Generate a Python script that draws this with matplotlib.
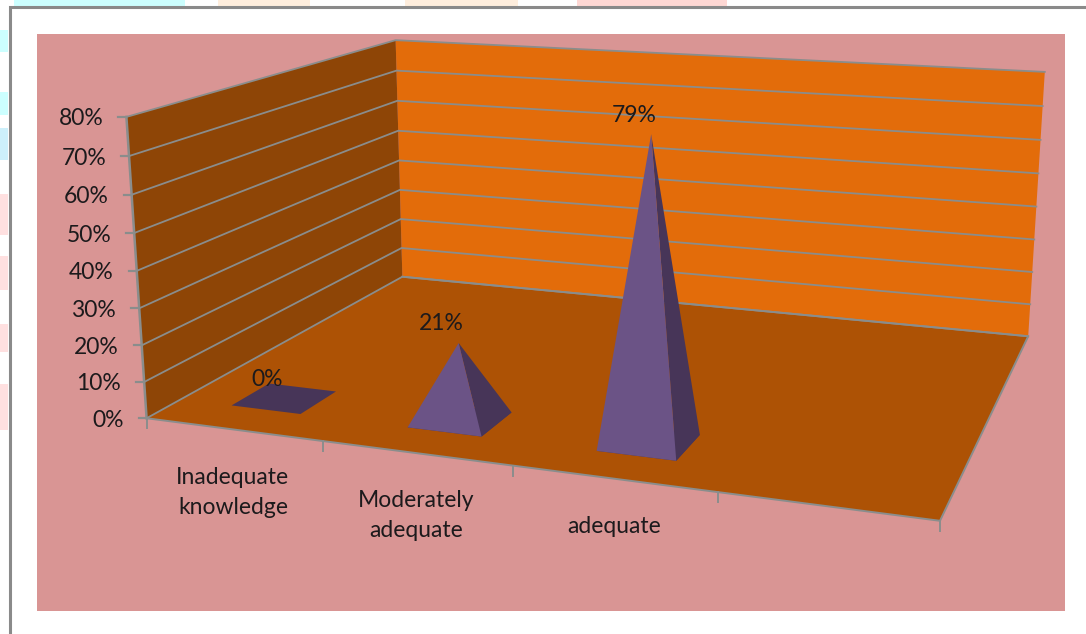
import numpy as np
import matplotlib
matplotlib.use('Agg')
import matplotlib.pyplot as plt
from matplotlib.patches import Polygon, Rectangle

plt.rcParams['font.family'] = ['Lato', 'DejaVu Sans']

categories = ['Inadequate\nknowledge', 'Moderately\nadequate', 'adequate']
values = [0, 21, 79]
y_ticks = [0, 10, 20, 30, 40, 50, 60, 70, 80]
n_slots = 4
y_max = 80

PINK = '#d99594'
BACK_WALL = '#e36c0a'
SIDE_WALL = '#8e4506'
FLOOR = '#ad5205'
GRID = '#8a8d8c'
FACE_FRONT = '#6b5386'
FACE_SIDE = '#473558'
TEXT = '#1c1a1c'
FS = 16.5

# camera: box corners (slot position, depth, height) -> pixel position
box_pts = [(0, 0, 0), (1, 0, 0), (0, 1, 0), (1, 1, 0), (0, 0, 1), (0, 1, 1), (1, 1, 1)]
px_pts = [(146, 418), (940, 521), (403, 277), (1028, 336), (127, 117), (395, 40), (1045, 72)]


def fit_camera(src, dst):
    rows = []
    for (a, b, c), (x, y) in zip(src, dst):
        rows.append([a, b, c, 1, 0, 0, 0, 0, -x*a, -x*b, -x*c, -x])
        rows.append([0, 0, 0, 0, a, b, c, 1, -y*a, -y*b, -y*c, -y])
    _, _, vt = np.linalg.svd(np.array(rows, dtype=float))
    return vt[-1].reshape(3, 4)


cam = fit_camera(box_pts, px_pts)


def proj(u, d, v=0):
    # v is in percent, u and d run 0-1 across the floor
    p = cam @ np.array([u, d, v / y_max, 1.0])
    return p[0] / p[2], p[1] / p[2]


fig = plt.figure(figsize=(10.86, 6.34), dpi=100)
ax = fig.add_axes([0, 0, 1, 1])
ax.set_xlim(0, 1086)
ax.set_ylim(634, 0)
ax.axis('off')

# coloured strips of the page behind the frame
for x0, x1, c in [(14, 185, '#ccffff'), (218, 310, '#ffeedd'), (405, 518, '#ffeedd'), (577, 727, '#ffd8d4')]:
    ax.add_patch(Rectangle((x0, 0), x1 - x0, 5.5, fc=c, ec='none'))
for y0, y1, c in [(30, 52, '#ccffff'), (92, 115, '#ccffff'), (128, 160, '#cdf0fb'), (194, 235, '#ffe0e0'),
                  (256, 290, '#ffe0e0'), (324, 352, '#ffe0e0'), (384, 430, '#ffe0e0')]:
    ax.add_patch(Rectangle((0, y0), 8, y1 - y0, fc=c, ec='none'))

# frame and chart area
ax.plot([9.5, 9.5, 1086], [634, 7, 7], color='#8a8a8a', lw=2.2, solid_joinstyle='miter')
ax.add_patch(Rectangle((37, 34), 1028, 577, fc=PINK, ec='none'))

# walls and floor
ax.add_patch(Polygon([proj(0, 1, 0), proj(1, 1, 0), proj(1, 1, y_max), proj(0, 1, y_max)], fc=BACK_WALL, ec='none'))
ax.add_patch(Polygon([proj(0, 0, 0), proj(0, 1, 0), proj(0, 1, y_max), proj(0, 0, y_max)], fc=SIDE_WALL, ec='none'))
ax.add_patch(Polygon([proj(0, 0, 0), proj(1, 0, 0), proj(1, 1, 0), proj(0, 1, 0)], fc=FLOOR, ec='none'))

# gridlines run along the side wall then the back wall
for v in y_ticks:
    pts = np.array([proj(0, 0, v), proj(0, 1, v), proj(1, 1, v)])
    ax.plot(pts[:, 0], pts[:, 1], color=GRID, lw=1.3)

# floor outline
pts = np.array([proj(0, 1, 0), proj(1, 1, 0), proj(1, 0, 0), proj(0, 0, 0)])
ax.plot(pts[:, 0], pts[:, 1], color=GRID, lw=1.4)

# value axis
pts = np.array([proj(0, 0, 0), proj(0, 0, y_max)])
ax.plot(pts[:, 0], pts[:, 1], color=GRID, lw=1.8)
for v in y_ticks:
    x, y = proj(0, 0, v)
    ax.plot([x - 8, x], [y, y], color=GRID, lw=1.6)
    ax.text(x - 23, y + 2, f'{v}%', ha='right', va='center', fontsize=FS, color=TEXT)

# category axis
for i in range(n_slots + 1):
    x, y = proj(i / n_slots, 0)
    ax.plot([x, x], [y, y + 10], color=GRID, lw=1.4)
for i, name in enumerate(categories):
    x0, y0 = proj(i / n_slots, 0)
    x1, y1 = proj((i + 1) / n_slots, 0)
    ax.text((x0 + x1) / 2 - 2, (y0 + y1) / 2 + 37, name, ha='center', va='top', fontsize=FS,
            color=TEXT, linespacing=1.52)

# pyramids
half_w = 0.05
d0, d1 = 0.108, 0.238
for i, val in enumerate(values):
    uc = (i + 0.5) / n_slots
    u0, u1 = uc - half_w, uc + half_w
    top = proj(uc, (d0 + d1) / 2, val)
    ax.add_patch(Polygon([proj(u0, d0), proj(u1, d0), proj(u1, d1), proj(u0, d1)], fc=FACE_SIDE, ec='none', zorder=3))
    if val > 0:
        ax.add_patch(Polygon([proj(u1, d0), proj(u1, d1), top], fc=FACE_SIDE, ec='none', zorder=4))
        ax.add_patch(Polygon([proj(u0, d0), proj(u1, d0), top], fc=FACE_FRONT, ec='none', zorder=5))
    ax.text(top[0] - 17, top[1] - 19, f'{val}%', ha='center', va='center', fontsize=FS, color=TEXT, zorder=6)

fig.savefig('out.png', dpi=100)
